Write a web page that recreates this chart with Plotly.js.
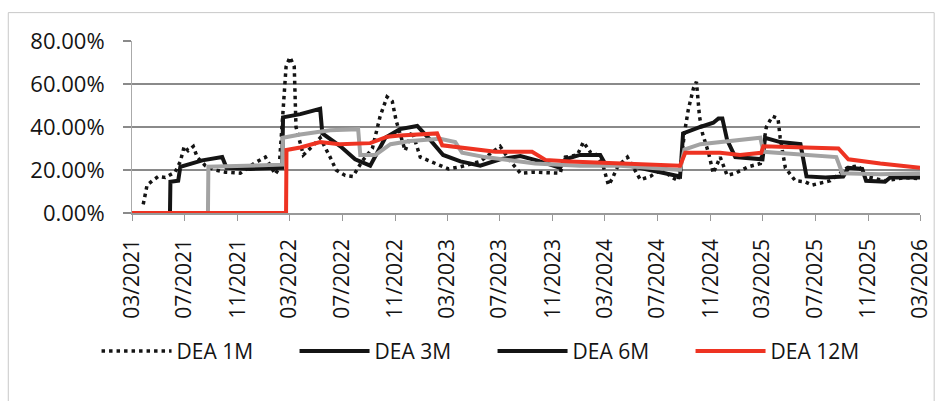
<!DOCTYPE html>
<html>
<head>
<meta charset="utf-8">
<script src="https://cdn.plot.ly/plotly-3.0.1.min.js"></script>
<style>html,body{margin:0;padding:0;background:#fff;}#chart{width:937px;height:401px;}</style>
</head>
<body>
<div id="chart"></div>
<script>
// ---- data (values in %) ----
const seriesNames = ["DEA 1M", "DEA 3M", "DEA 6M", "DEA 12M"];

const dates1M = ["2021-03-27","2021-04-01","2021-04-05","2021-04-17","2021-05-01","2021-05-17","2021-06-09","2021-06-21","2021-06-30","2021-07-09","2021-07-21","2021-07-30","2021-08-18","2021-09-10","2021-10-03","2021-11-07","2021-12-12","2022-01-04","2022-01-27","2022-02-05","2022-02-14","2022-02-21","2022-03-02","2022-03-12","2022-03-16","2022-04-02","2022-04-23","2022-05-11","2022-06-03","2022-06-17","2022-07-08","2022-07-26","2022-08-16","2022-09-09","2022-09-27","2022-10-13","2022-10-25","2022-11-03","2022-11-24","2022-12-10","2022-12-29","2023-01-21","2023-03-04","2023-04-01","2023-05-17","2023-07-02","2023-07-26","2023-08-18","2023-09-17","2023-11-18","2023-11-30","2023-12-28","2024-01-11","2024-01-28","2024-02-13","2024-02-27","2024-03-09","2024-03-18","2024-03-30","2024-04-22","2024-05-22","2024-06-14","2024-07-14","2024-07-30","2024-08-18","2024-08-25","2024-09-01","2024-09-10","2024-09-22","2024-09-29","2024-10-06","2024-10-13","2024-10-27","2024-11-07","2024-11-23","2024-12-09","2024-12-28","2025-01-27","2025-02-24","2025-03-10","2025-03-24","2025-04-06","2025-04-11","2025-04-23","2025-05-16","2025-06-08","2025-06-24","2025-08-05","2025-09-13","2025-10-09","2025-10-27","2025-12-10","2026-01-25","2026-02-25"];
const values1M = [4,9,13,15,17,16.5,19,24,31,29,31,26,22,20,19,18.5,23.5,26,18,21,45,68,72.5,68,40,27,31,35,26,20,17.5,17,24,30,45,54,52,43,29,38,26,24,20.5,21.5,24,31,24,18.5,19,18.5,26,27,33,28,27,21,13,16,21.5,26,15.5,17,21,17,15,25,37,48,58,61,45,37,28,18.5,26,17.5,18.5,21.5,23,40,45,44,35,21,15,14.5,13,15,21,22,17,15,16.5,16];

const dates3M = ["2021-03-01","2021-05-28","2021-05-29","2021-06-16","2021-06-21","2021-07-14","2021-08-11","2021-09-26","2021-10-06","2021-11-30","2022-02-12","2022-02-14","2022-03-26","2022-05-11","2022-05-16","2022-06-27","2022-07-31","2022-09-04","2022-10-09","2022-11-12","2022-12-22","2023-01-21","2023-02-20","2023-04-01","2023-05-17","2023-07-02","2023-08-18","2023-10-03","2023-11-18","2023-11-30","2024-01-03","2024-02-19","2024-03-01","2024-04-28","2024-06-14","2024-08-22","2024-08-25","2024-08-29","2024-10-08","2024-11-07","2024-11-19","2024-11-28","2024-12-09","2024-12-28","2025-03-01","2025-03-07","2025-04-11","2025-05-28","2025-06-11","2025-07-25","2025-09-04","2025-09-16","2025-10-18","2025-10-27","2025-12-10","2025-12-22","2026-03-01"];
const values3M = [0,0,14.5,15,21.5,23,24.5,26,21,20.5,21,44.5,46,48.5,37,31,25,22,35,39,40.5,34,27,24,22,25,26.5,24,21,25,27,27,23,22,20,17,25,37,40,42,44,44,34,26,25,35,33,32,17,16.5,17,21,20.5,15,14.5,16.5,16.5];

const dates6M = ["2021-03-01","2021-08-24","2021-08-25","2021-11-07","2022-02-12","2022-02-14","2022-03-26","2022-06-03","2022-08-07","2022-08-12","2022-09-16","2022-10-21","2022-12-06","2023-02-13","2023-03-20","2023-04-05","2023-05-28","2023-07-26","2023-09-21","2024-01-03","2024-04-05","2024-08-22","2024-09-01","2024-10-08","2024-11-23","2025-01-20","2025-02-24","2025-03-03","2025-05-28","2025-08-19","2025-09-02","2025-11-29","2026-03-01"];
const values6M = [0,0,21.5,22,22.5,35,36.5,38.5,39,27,27,32,33.5,34.5,33,28,26,24.5,23,22,22,20,29.5,32,33,34,35,28.5,27,26,18.5,18,18.5];

const dates12M = ["2021-03-01","2022-02-21","2022-02-22","2022-03-26","2022-05-11","2022-06-25","2022-09-04","2022-10-14","2022-11-12","2023-02-06","2023-02-18","2023-04-24","2023-06-21","2023-09-14","2023-10-15","2023-12-11","2024-04-05","2024-08-22","2024-09-03","2024-11-23","2025-01-08","2025-02-26","2025-03-03","2025-05-28","2025-08-24","2025-09-16","2025-11-29","2026-03-01"];
const values12M = [0,0,29.3,30.5,33,32,32.5,35.5,36,37,31.5,30,28.5,28.5,24.7,24,23.3,22,28,28,27,28,31,30.5,30,25,23,21];

const tickDates = ["2021-03-01","2021-07-01","2021-11-01","2022-03-01","2022-07-01","2022-11-01","2023-03-01","2023-07-01","2023-11-01","2024-03-01","2024-07-01","2024-11-01","2025-03-01","2025-07-01","2025-11-01","2026-03-01"];
const tickLabels = ["03/2021","07/2021","11/2021","03/2022","07/2022","11/2022","03/2023","07/2023","11/2023","03/2024","07/2024","11/2024","03/2025","07/2025","11/2025","03/2026"];
const yTicks = [0, 20, 40, 60, 80];
const yTickLabels = ["0.00%","20.00%","40.00%","60.00%","80.00%"];

const pct = a => a.map(v => v / 100);

const FONT = "'Open Sans', 'DejaVu Sans', sans-serif";
const BLACK = "#141414";
const GRAY = "#a3a3a3";
const RED = "#ee3322";

const traces = [
  {x: dates1M, y: pct(values1M), name: seriesNames[0], type: "scatter", mode: "lines",
   line: {color: BLACK, width: 3.5, dash: "3.5px,4px"}},
  {x: dates3M, y: pct(values3M), name: seriesNames[1], type: "scatter", mode: "lines",
   line: {color: BLACK, width: 4}},
  {x: dates6M, y: pct(values6M), name: seriesNames[2], type: "scatter", mode: "lines",
   line: {color: GRAY, width: 4}, showlegend: false, legendgroup: "g6"},
  {x: [null], y: [null], name: seriesNames[2], type: "scatter", mode: "lines",
   line: {color: BLACK, width: 4}, legendgroup: "g6", hoverinfo: "skip"},
  {x: dates12M, y: pct(values12M), name: seriesNames[3], type: "scatter", mode: "lines",
   line: {color: RED, width: 4}}
];

const layout = {
  width: 937, height: 401,
  margin: {l: 132, r: 17, t: 41, b: 188},
  paper_bgcolor: "#fff", plot_bgcolor: "#fff",
  font: {family: FONT, color: BLACK, size: 20},
  showlegend: true,
  legend: {orientation: "h", x: -0.045, xanchor: "left", y: -0.805, yanchor: "middle",
           font: {family: FONT, size: 21, color: BLACK}, itemwidth: 70,
           entrywidth: 113, entrywidthmode: "pixels", traceorder: "normal",
           bgcolor: "rgba(0,0,0,0)", tracegroupgap: 0},
  xaxis: {type: "date", range: ["2021-03-01", "2026-03-01"],
          tickmode: "array", tickvals: tickDates, ticktext: tickLabels,
          tickangle: -90, ticks: "outside", ticklen: 6, tickcolor: "#999", tickwidth: 1,
          showgrid: false, showline: true, linecolor: "#999", linewidth: 1.5,
          zeroline: false, ticklabelstandoff: 10,
          tickfont: {family: FONT, size: 21, color: BLACK}},
  yaxis: {range: [0, 0.8], tickmode: "array", tickvals: pct(yTicks), ticktext: yTickLabels,
          ticks: "outside", ticklen: 8, tickcolor: "#8a8a8a", tickwidth: 1.5,
          showgrid: true, gridcolor: "#8a8a8a", gridwidth: 1.5,
          showline: true, linecolor: "#aaa", linewidth: 1, zeroline: false,
          ticklabelstandoff: 14,
          tickfont: {family: FONT, size: 22, color: BLACK}},
  shapes: [{type: "rect", xref: "paper", yref: "paper",
            x0: -0.157, x1: 1.018, y0: -1.13, y1: 1.165,
            line: {color: "#c8c8c8", width: 1}, fillcolor: "rgba(0,0,0,0)", layer: "below"}]
};

Plotly.newPlot("chart", traces, layout, {displayModeBar: false, staticPlot: true});
</script>
</body>
</html>
